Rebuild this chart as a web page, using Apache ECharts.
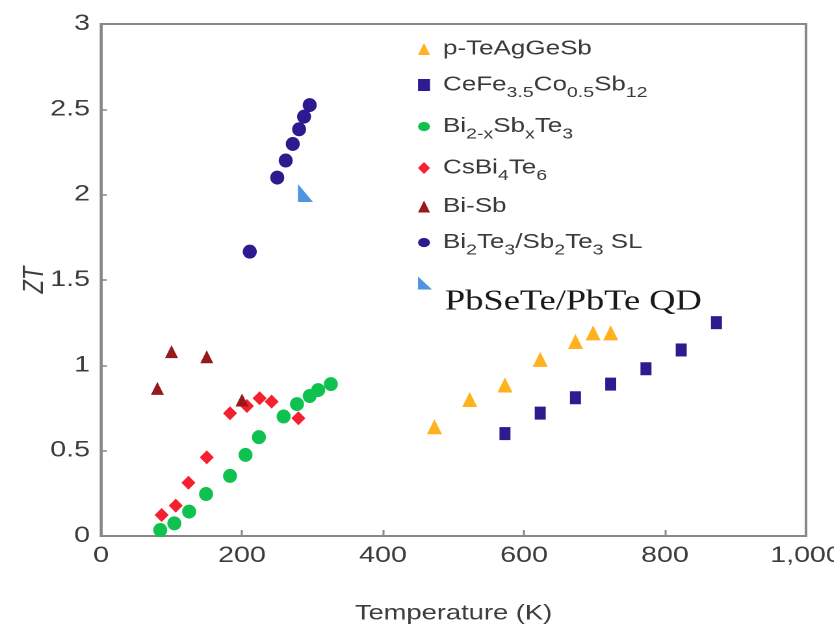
<!DOCTYPE html>
<html>
<head>
<meta charset="utf-8">
<script src="https://cdn.jsdelivr.net/npm/echarts@6/dist/echarts.min.js"></script>
<style>
  html, body { margin: 0; padding: 0; background: #fff; overflow: hidden; }
  #chart { height: 628px; transform-origin: 0 0; }
</style>
</head>
<body>
<div id="chart"></div>
<script>
// ---- data: figure of merit ZT vs temperature (K) ----
const xTicks = [0, 200, 400, 600, 800, 1000];
const yTicks = [0, 0.5, 1, 1.5, 2, 2.5, 3];

const teAgGeSbT  = [473, 523, 573, 623, 673, 698, 723];
const teAgGeSbZT = [0.64, 0.80, 0.885, 1.035, 1.14, 1.19, 1.19];

const ceFeCoSbT  = [573, 623, 673, 723, 773, 823, 873];
const ceFeCoSbZT = [0.60, 0.72, 0.81, 0.89, 0.98, 1.09, 1.25];

const biSbTeT  = [84, 104, 125, 149, 183, 205, 224, 259, 278, 296, 308, 326];
const biSbTeZT = [0.035, 0.074, 0.143, 0.246, 0.352, 0.475, 0.579, 0.70, 0.773, 0.82, 0.855, 0.89];

const csBiTeT  = [86, 106, 124, 150, 183, 207, 225, 242, 280];
const csBiTeZT = [0.123, 0.178, 0.312, 0.461, 0.719, 0.762, 0.807, 0.787, 0.69];

const biSbT  = [80, 100, 150, 200];
const biSbZT = [0.865, 1.08, 1.05, 0.797];

const slT  = [211, 250, 262, 272, 281, 288, 296];
const slZT = [1.666, 2.10, 2.20, 2.297, 2.383, 2.457, 2.525];

const qdT  = [290];
const qdZT = [2.01];

const seriesNames = ['p-TeAgGeSb', 'CeFe3.5Co0.5Sb12', 'Bi2-xSbxTe3', 'CsBi4Te6', 'Bi-Sb', 'Bi2Te3/Sb2Te3 SL', 'PbSeTe/PbTe QD'];

// ---- layout: the canvas is drawn narrower and widened with a CSS scaleX,
// which gives the broad lettering; marker widths are pre-divided so they stay round.
const K = 1.3;
const W = 834, H = 628;
const sx = v => v / K;
const dom = document.getElementById('chart');
dom.style.width = (W / K) + 'px';
dom.style.transform = 'scaleX(' + K + ')';

const CIRCLE = 'path://M1,0A1,1 0 1,1 1,2A1,1 0 1,1 1,0Z';
const CORNER = 'path://M0,0L0,12L10,12Z';
const frameColor = '#888888';
const labelColor = '#3d3d3d';
const FONT = 'Liberation Sans';

const pts = (xs, ys) => xs.map((x, i) => [x, ys[i]]);

function scatter(name, xs, ys, symbol, w, h, color) {
  return {
    name: name,
    type: 'scatter',
    data: pts(xs, ys),
    symbol: symbol,
    symbolSize: [sx(w), h],
    itemStyle: { color: color, opacity: 1 },
    emphasis: { disabled: true },
    z: 3
  };
}

// rich text: f = first run (gap after the icon), m = normal run, s = subscript, q = serif label
const legendRich = {
  f: { fontSize: 20, fontFamily: FONT, color: '#3a3a3a', lineHeight: 26, padding: [0, 0, 0, 5] },
  m: { fontSize: 20, fontFamily: FONT, color: '#3a3a3a', lineHeight: 26 },
  s: { fontSize: 15, fontFamily: FONT, color: '#3a3a3a', lineHeight: 26, height: 10, padding: [16, 0, 0, 0] },
  q: { fontSize: 28, fontFamily: 'Liberation Serif', color: '#1a1a1a', lineHeight: 40, height: 2, padding: [38, 0, 0, 5] }
};
const legendText = {
  'p-TeAgGeSb': '{f|p-TeAgGeSb}',
  'CeFe3.5Co0.5Sb12': '{f|CeFe}{s|3.5}{m|Co}{s|0.5}{m|Sb}{s|12}',
  'Bi2-xSbxTe3': '{f|Bi}{s|2-x}{m|Sb}{s|x}{m|Te}{s|3}',
  'CsBi4Te6': '{f|CsBi}{s|4}{m|Te}{s|6}',
  'Bi-Sb': '{f|Bi-Sb}',
  'Bi2Te3/Sb2Te3 SL': '{f|Bi}{s|2}{m|Te}{s|3}{m|/Sb}{s|2}{m|Te}{s|3}{m| SL}',
  'PbSeTe/PbTe QD': '{q|PbSeTe/PbTe QD}'
};

const chart = echarts.init(dom, null, { renderer: 'canvas', devicePixelRatio: 2 });
chart.setOption({
  animation: false,
  backgroundColor: '#ffffff',
  grid: {
    left: sx(101), top: 24, width: sx(705), height: 512,
    containLabel: false, outerBoundsMode: 'none',
    show: true, borderColor: frameColor, borderWidth: 2, backgroundColor: 'transparent'
  },
  legend: [
    {
      data: seriesNames.slice(0, 6),
      orient: 'vertical',
      left: sx(418), top: 39,
      padding: 0,
      itemWidth: sx(12), itemHeight: 12,
      itemGap: 13,
      selectedMode: false,
      formatter: n => legendText[n],
      textStyle: { rich: legendRich }
    },
    {
      data: seriesNames.slice(6),
      orient: 'vertical',
      left: sx(418), top: 263,
      padding: 0,
      itemWidth: sx(14), itemHeight: 16,
      selectedMode: false,
      formatter: n => legendText[n],
      textStyle: { rich: legendRich }
    }
  ],
  xAxis: {
    type: 'value',
    min: xTicks[0], max: xTicks[xTicks.length - 1], interval: xTicks[1] - xTicks[0],
    name: 'Temperature (K)',
    nameLocation: 'middle', nameGap: 67, nameMoveOverlap: false,
    nameTextStyle: { fontSize: 21, fontFamily: FONT, color: labelColor },
    axisLine: { show: true, onZero: false, lineStyle: { color: frameColor, width: 2 } },
    axisTick: { show: true, inside: true, length: 6, lineStyle: { color: frameColor, width: 1.5 } },
    splitLine: { show: false },
    axisLabel: {
      margin: 9, fontSize: 22, fontFamily: FONT, color: labelColor,
      formatter: v => v >= 1000 ? String(v).replace(/(\d)(?=(\d{3})+$)/, '$1,') : String(v)
    }
  },
  yAxis: {
    type: 'value',
    min: yTicks[0], max: yTicks[yTicks.length - 1], interval: yTicks[1] - yTicks[0],
    name: 'ZT',
    nameLocation: 'middle', nameGap: 40, nameMoveOverlap: false,
    nameTextStyle: { fontSize: 22, fontFamily: FONT, fontStyle: 'italic', color: labelColor },
    axisLine: { show: true, onZero: false, lineStyle: { color: frameColor, width: 2 } },
    axisTick: { show: true, inside: true, length: sx(6), lineStyle: { color: frameColor, width: 1.5 } },
    splitLine: { show: false },
    axisLabel: { margin: sx(11), fontSize: 22, fontFamily: FONT, color: labelColor }
  },
  series: [
    scatter(seriesNames[0], teAgGeSbT, teAgGeSbZT, 'triangle', 15, 15, '#ffb21e'),
    scatter(seriesNames[1], ceFeCoSbT, ceFeCoSbZT, 'rect', 11, 13, '#2d1b8f'),
    scatter(seriesNames[2], biSbTeT, biSbTeZT, CIRCLE, 14, 14, '#0fc24f'),
    scatter(seriesNames[3], csBiTeT, csBiTeZT, 'diamond', 14, 14, '#f5202f'),
    scatter(seriesNames[4], biSbT, biSbZT, 'triangle', 13, 13, '#961a1c'),
    scatter(seriesNames[5], slT, slZT, CIRCLE, 14, 14, '#2c1a8e'),
    scatter(seriesNames[6], qdT, qdZT, CORNER, 15, 18, '#4f93e3')
  ]
});
</script>
</body>
</html>
